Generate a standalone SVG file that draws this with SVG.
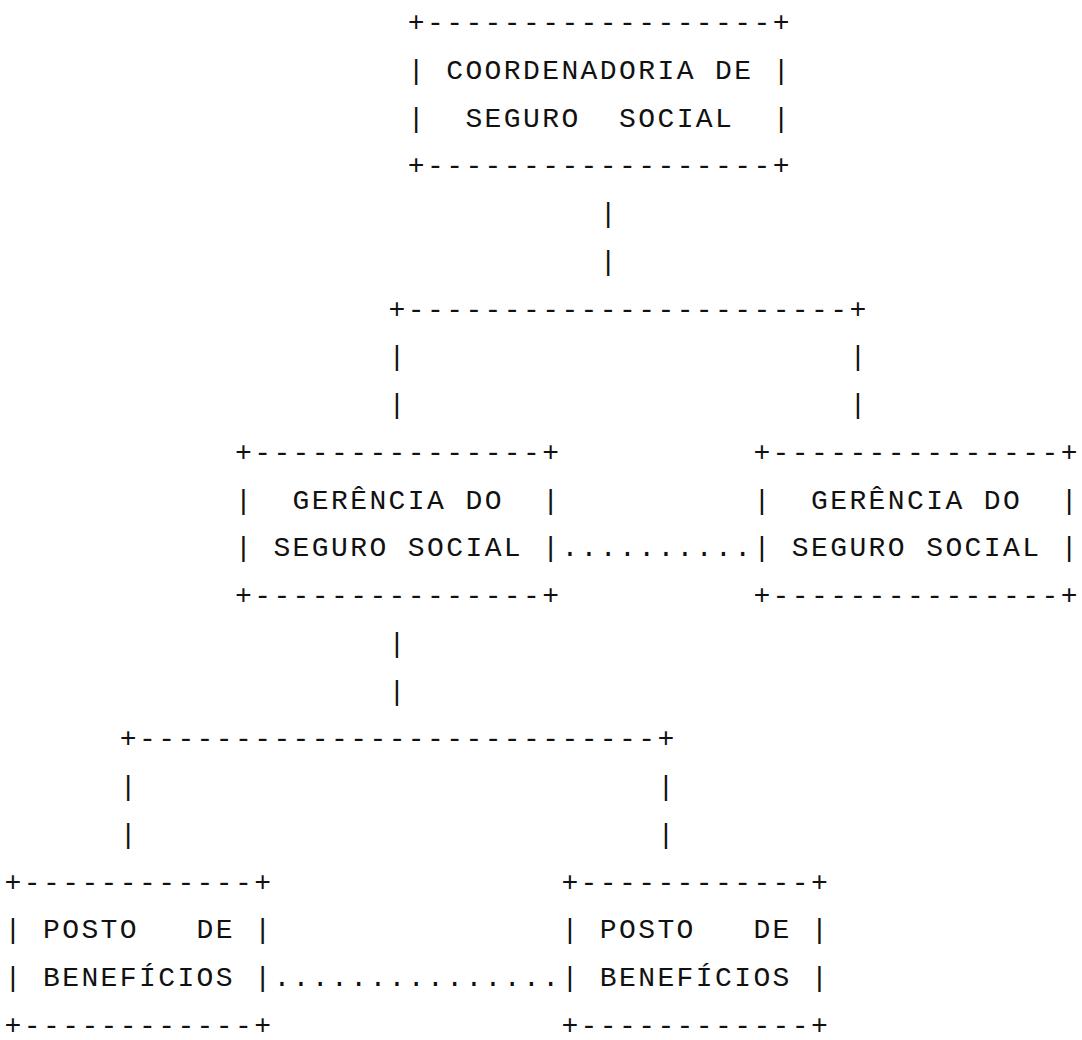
<svg xmlns="http://www.w3.org/2000/svg" width="1082" height="1040" viewBox="0 0 1082 1040" xml:space="preserve">
<style>
text{font-family:"Liberation Mono","Courier New",monospace;font-size:28px;letter-spacing:2.4px;fill:#111;white-space:pre}
</style>
<rect width="1082" height="1040" fill="#fff"/>
<g id="node-coordenadoria">
<text x="407.8" y="31">+------------------+</text>
<text x="407.8" y="78.75">| COORDENADORIA DE |</text>
<text x="407.8" y="126.5">|  SEGURO  SOCIAL  |</text>
<text x="407.8" y="174.25">+------------------+</text>
</g>
<g id="node-gerencia-1">
<text x="235" y="460.75">+---------------+</text>
<text x="235" y="508.5">|  GERÊNCIA DO  |</text>
<text x="235" y="556.25">| SEGURO SOCIAL |</text>
<text x="235" y="604">+---------------+</text>
</g>
<g id="node-gerencia-2">
<text x="753.4" y="460.75">+---------------+</text>
<text x="753.4" y="508.5">|  GERÊNCIA DO  |</text>
<text x="753.4" y="556.25">| SEGURO SOCIAL |</text>
<text x="753.4" y="604">+---------------+</text>
</g>
<g id="node-posto-1">
<text x="4.6" y="890.5">+------------+</text>
<text x="4.6" y="938.25">| POSTO   DE |</text>
<text x="4.6" y="986">| BENEFÍCIOS |</text>
<text x="4.6" y="1033.75">+------------+</text>
</g>
<g id="node-posto-2">
<text x="561.4" y="890.5">+------------+</text>
<text x="561.4" y="938.25">| POSTO   DE |</text>
<text x="561.4" y="986">| BENEFÍCIOS |</text>
<text x="561.4" y="1033.75">+------------+</text>
</g>
<g id="connectors">
<text x="599.8" y="222">|</text>
<text x="599.8" y="269.75">|</text>
<text x="388.6" y="317.5">+-----------------------+</text>
<text x="388.6" y="365.25">|</text>
<text x="849.4" y="365.25">|</text>
<text x="388.6" y="413">|</text>
<text x="849.4" y="413">|</text>
<text x="561.4" y="556.25">..........</text>
<text x="388.6" y="651.75">|</text>
<text x="388.6" y="699.5">|</text>
<text x="119.8" y="747.25">+---------------------------+</text>
<text x="119.8" y="795">|</text>
<text x="657.4" y="795">|</text>
<text x="119.8" y="842.75">|</text>
<text x="657.4" y="842.75">|</text>
<text x="273.4" y="986">...............</text>
</g>
</svg>
